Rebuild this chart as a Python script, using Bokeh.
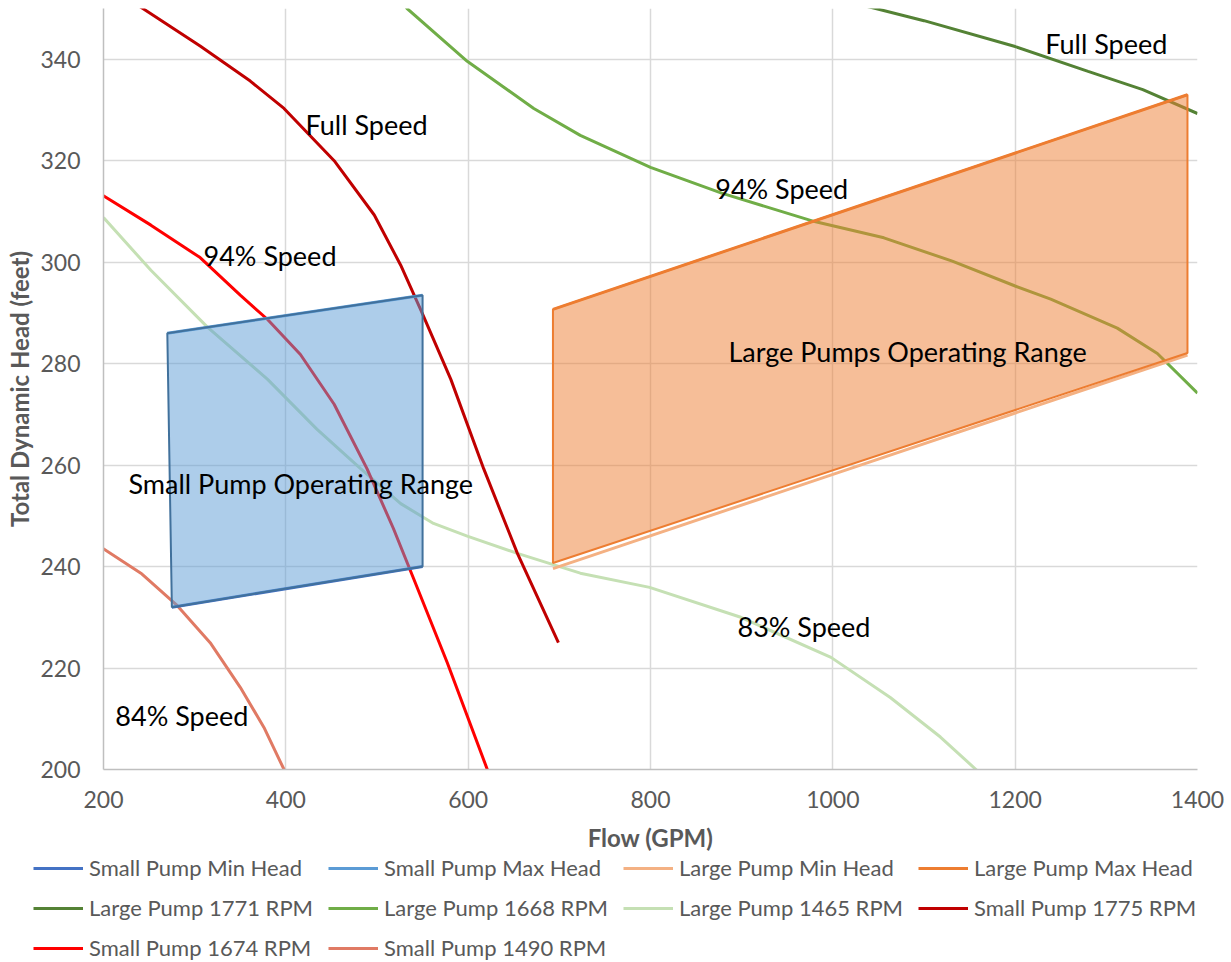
from bokeh.plotting import figure
from bokeh.models import Legend, LegendItem, Range1d, Label, FixedTicker
from bokeh.layouts import column, row
from bokeh.embed import file_html
from bokeh.resources import INLINE

# ---------------- data ----------------
small_min_head_x = [275, 550]
small_min_head_y = [232.0, 240.0]
small_max_head_x = [270, 550]
small_max_head_y = [286.0, 293.5]
large_min_head_x = [693, 1389]
large_min_head_y = [239.6, 281.7]
large_max_head_x = [693, 1389]
large_max_head_y = [290.7, 333.0]

large_1771_x = [1000, 1047, 1100, 1200, 1280, 1340, 1400]
large_1771_y = [352.0, 350.0, 347.6, 342.5, 337.6, 334.0, 329.3]
large_1668_x = [520, 533, 599, 672, 723, 800, 878, 980, 1056, 1131, 1200, 1239, 1312, 1356, 1400]
large_1668_y = [353.0, 350.0, 339.6, 330.3, 325.0, 318.7, 313.6, 308.0, 304.8, 300.2, 295.3, 292.7, 287.0, 282.0, 274.2]
large_1465_x = [200, 252, 314, 380, 434, 482, 526, 562, 599, 654, 723, 799, 899, 998, 1063, 1118, 1157, 1170]
large_1465_y = [308.8, 298.4, 287.2, 276.9, 267.1, 259.3, 252.4, 248.5, 246.0, 242.6, 238.7, 235.9, 230.0, 222.1, 214.2, 206.4, 200.0, 197.5]
small_1775_x = [200, 244, 306, 361, 398, 453, 497, 526, 548, 581, 617, 654, 699]
small_1775_y = [355.0, 349.9, 342.6, 335.7, 330.3, 320.0, 309.3, 299.4, 290.6, 276.9, 259.3, 242.6, 225.0]
small_1674_x = [199, 252, 306, 350, 380, 416, 453, 489, 518, 540, 577, 621, 630]
small_1674_y = [313.2, 307.3, 300.9, 293.5, 288.7, 281.8, 272.0, 259.3, 247.5, 237.7, 221.1, 200.0, 195.5]
small_1490_x = [199, 241, 281, 317, 350, 376, 398, 404]
small_1490_y = [243.6, 238.7, 232.3, 225.0, 216.2, 208.3, 200.0, 197.5]

# operating range shapes (corner points)
small_range_x = [270, 550, 550, 275]
small_range_y = [286.0, 293.5, 240.0, 232.0]
large_range_x = [693, 1389, 1389, 693]
large_range_y = [290.7, 333.0, 282.1, 240.7]

# annotation texts
note_text = ["Full Speed", "94% Speed", "Small Pump Operating Range", "84% Speed",
             "94% Speed", "Full Speed", "Large Pumps Operating Range", "83% Speed"]
note_x = [421.6, 309.7, 227.4, 213.0, 871.0, 1233.0, 885.5, 895.4]
note_y = [327.2, 301.4, 256.3, 210.6, 314.6, 343.1, 282.3, 228.1]

x_ticks = [200, 400, 600, 800, 1000, 1200, 1400]
y_ticks = [200, 220, 240, 260, 280, 300, 320, 340]

series_names = ["Small Pump Min Head", "Small Pump Max Head", "Large Pump Min Head",
                "Large Pump Max Head", "Large Pump 1771 RPM", "Large Pump 1668 RPM",
                "Large Pump 1465 RPM", "Small Pump 1775 RPM", "Small Pump 1674 RPM",
                "Small Pump 1490 RPM"]
series_x = [small_min_head_x, small_max_head_x, large_min_head_x, large_max_head_x,
            large_1771_x, large_1668_x, large_1465_x, small_1775_x, small_1674_x, small_1490_x]
series_y = [small_min_head_y, small_max_head_y, large_min_head_y, large_max_head_y,
            large_1771_y, large_1668_y, large_1465_y, small_1775_y, small_1674_y, small_1490_y]
series_colors = ["#4472C4", "#5B9BD5", "#F4B183", "#ED7D31", "#548235", "#70AD47",
                 "#C5E0B4", "#C00000", "#FF0000", "#E07A64"]
draw_order = [4, 5, 6, 7, 8, 9, 0, 1, 2, 3]

FONT = "Lato"
GRAY = "#595959"
LW = 3

p = figure(width=1231, height=855, x_range=Range1d(200, 1400), y_range=Range1d(200, 350),
           output_backend="svg", toolbar_location=None,
           min_border_left=103, min_border_right=34, min_border_top=8, min_border_bottom=86)
p.outline_line_color = None

p.xaxis.ticker = FixedTicker(ticks=x_ticks)
p.yaxis.ticker = FixedTicker(ticks=y_ticks)
for ax in (p.xaxis, p.yaxis):
    ax.axis_line_color = "#BFBFBF"
    ax.axis_line_width = 1.5
    ax.major_tick_line_color = None
    ax.minor_tick_line_color = None
    ax.major_tick_in = 0
    ax.major_tick_out = 0
    ax.minor_tick_in = 0
    ax.minor_tick_out = 0
    ax.major_label_text_font = FONT
    ax.major_label_text_font_size = "23px"
    ax.major_label_text_color = GRAY
    ax.axis_label_text_font = FONT
    ax.axis_label_text_font_size = "24px"
    ax.axis_label_text_font_style = "bold"
    ax.axis_label_text_color = GRAY
p.xaxis.axis_label = "Flow (GPM)"
p.yaxis.axis_label = "Total Dynamic Head (feet)"
p.xaxis.major_label_standoff = 21
p.xaxis.axis_label_standoff = 12
p.yaxis.major_label_standoff = 23
p.yaxis.axis_label_standoff = 3

for g in (p.xgrid, p.ygrid):
    g.grid_line_color = "#D9D9D9"
    g.grid_line_width = 1.5
p.xgrid.ticker = FixedTicker(ticks=x_ticks)
p.ygrid.ticker = FixedTicker(ticks=y_ticks)

for i in draw_order:
    p.line(series_x[i], series_y[i], line_color=series_colors[i], line_width=LW)

p.patch(small_range_x, small_range_y, fill_color="#5B9BD5", fill_alpha=0.5,
        line_color="#41719C", line_width=2)
p.patch(large_range_x, large_range_y, fill_color="#ED7D31", fill_alpha=0.5,
        line_color="#ED7D31", line_width=2)

for t, x, y in zip(note_text, note_x, note_y):
    p.add_layout(Label(x=x, y=y, text=t, text_font=FONT, text_font_size="27px",
                       text_color="black", text_align="left", text_baseline="middle"))

# ---------------- legend strip (same series, view range shows none of the data) ----------------
lg = figure(width=1231, height=107, x_range=Range1d(0, 1), y_range=Range1d(0, 1),
            output_backend="svg", toolbar_location=None,
            x_axis_location=None, y_axis_location=None, min_border=0)
lg.outline_line_color = None
lg.grid.visible = False
items = []
for name, xs, ys, c in zip(series_names, series_x, series_y, series_colors):
    r = lg.line(xs, ys, line_color=c, line_width=LW)
    items.append(LegendItem(label=name, renderers=[r]))
legend = Legend(items=items, orientation="horizontal", ncols=4, location=(33, 1),
                glyph_width=50, glyph_height=20, label_standoff=6, label_width=226,
                label_height=20, spacing=13, padding=0, margin=0,
                border_line_color=None, background_fill_alpha=0,
                label_text_font=FONT, label_text_font_size="22px", label_text_color=GRAY)
lg.add_layout(legend)

layout = column(p, row(lg), spacing=0)
open("out.html", "w").write(file_html(layout, INLINE))
